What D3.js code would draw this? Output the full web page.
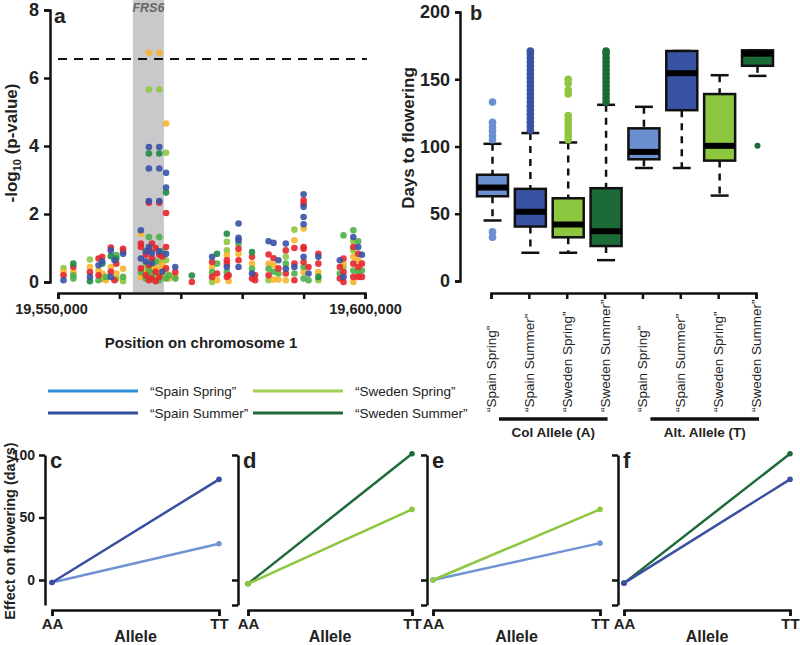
<!DOCTYPE html>
<html><head><meta charset="utf-8">
<script src="https://cdn.jsdelivr.net/npm/d3@7"></script>
<style>
body{margin:0;background:#fff}
text{font-family:"Liberation Sans",Arial,sans-serif;fill:#222}
.ax path,.ax line{stroke:#111;stroke-width:2.5}
</style></head>
<body><svg id="fig" width="800" height="645"></svg>
<script>
// ---------- Panel a data: [position (bp), -log10 p] per colour ----------
const blueSNPs = [[19550900,.05],[19555200,.15],[19556600,.49],[19557200,.6],[19558600,.93],[19558600,.15],[19559200,.64],[19560600,.83],[19563500,1.52],[19563500,.69],[19564300,.9],[19564300,.6],[19564800,3.97],[19564800,3.34],[19564800,2.38],[19564800,1.03],[19565300,.85],[19565300,.55],[19566500,3.97],[19566500,3.34],[19566500,2.38],[19566500,.9],[19567000,.3],[19567600,3.21],[19567600,2.78],[19567600,.83],[19569100,.44],[19575100,.74],[19577500,.44],[19579400,1.72],[19579400,1.3],[19579400,1.23],[19579400,.44],[19581600,.25],[19584300,1.2],[19585100,1.15],[19585900,.64],[19587100,1.13],[19587100,.39],[19588500,.44],[19590000,2.58],[19590000,2.21],[19590000,1.91],[19590000,1.7],[19590000,.74],[19590800,.25],[19592400,.74],[19595900,.64],[19596500,.15],[19598100,1.32],[19598900,1.03],[19599500,.8]];
const redSNPs = [[19550900,.2],[19552500,.44],[19555200,.29],[19556600,.69],[19556600,.2],[19557200,.74],[19558600,1.01],[19558600,.3],[19559200,.05],[19559500,.54],[19560600,.98],[19560600,.9],[19563500,1.13],[19563500,1.03],[19563500,.4],[19564300,.8],[19564300,.2],[19564800,2.33],[19564800,.93],[19564800,.5],[19564800,.05],[19565300,1.13],[19565300,.7],[19565300,.1],[19565900,1.0],[19565900,.3],[19565900,.02],[19566500,2.33],[19566500,.8],[19566500,.15],[19567000,.75],[19567600,2.03],[19567600,1.03],[19567600,.4],[19569100,.29],[19571800,0],[19575100,.59],[19575100,.15],[19575900,.25],[19577500,.64],[19577500,.54],[19577500,.15],[19577800,.2],[19579400,.98],[19579400,.64],[19581600,.74],[19581600,.1],[19582100,.2],[19582100,.05],[19584300,.81],[19584300,.2],[19585100,.7],[19585900,.4],[19587100,.93],[19587100,.25],[19588500,1.0],[19588500,.54],[19588500,.05],[19590000,2.4],[19590000,2.3],[19590000,1.03],[19590000,.98],[19590000,.59],[19590800,.44],[19592400,.83],[19592400,.54],[19595900,.44],[19595900,.1],[19596500,.69],[19596500,.29],[19596500,0],[19598100,1.03],[19598100,.54],[19598100,.15],[19598900,.83],[19598900,.44],[19598900,.15],[19599500,.54],[19599500,.15]];
const darkGreenSNPs = [[19552500,.54],[19555200,.02],[19557200,.54],[19558600,.76],[19559500,.69],[19564800,3.78],[19566500,3.78],[19567600,2.63],[19571800,.19],[19575900,.83],[19577500,1.42],[19581600,.88],[19592400,.15]];
const greenSNPs = [[19552500,.2],[19552500,.1],[19556600,.05],[19557800,.15],[19559500,.79],[19560600,.15],[19563500,.29],[19564300,.1],[19564800,1.32],[19564800,.35],[19565300,.25],[19565900,.6],[19566500,1.32],[19566500,.05],[19567000,.9],[19567600,.1],[19568100,.2],[19569100,.1],[19575100,.29],[19575900,.54],[19577500,.29],[19579400,1.13],[19581600,.39],[19584300,.39],[19585100,.3],[19585900,.25],[19587100,.54],[19588500,.25],[19590000,.44],[19590000,.1],[19590800,.05],[19595900,.25],[19596500,1.37],[19598100,1.52],[19598100,.34],[19598900,1.2],[19598900,.3],[19599500,.34]];
const lightGreenSNPs = [[19550900,.41],[19555200,.66],[19557200,.1],[19559500,.1],[19560600,.02],[19564300,.5],[19564800,5.66],[19564800,.15],[19565300,.6],[19565900,.2],[19566500,5.66],[19566500,.6],[19567000,.2],[19567600,3.8],[19567600,.64],[19575100,0],[19577500,1.18],[19577500,.93],[19584300,.05],[19587100,.74],[19588500,1.54],[19592400,.05],[19596500,.44],[19598100,1.2],[19598100,.93]];
const yellowSNPs = [[19550900,.29],[19552500,.29],[19555200,.44],[19556600,.34],[19557200,.25],[19557800,.05],[19558600,.44],[19559500,.25],[19560600,.39],[19563500,1.42],[19563500,.15],[19564300,.3],[19564800,6.74],[19564800,.3],[19565300,.45],[19565900,.4],[19566500,6.74],[19566500,.35],[19567000,.5],[19567600,4.66],[19567600,.25],[19568100,.1],[19569100,.15],[19575100,.44],[19575900,.05],[19577500,.79],[19577800,.03],[19579400,.83],[19581600,.54],[19584300,.54],[19585100,.5],[19585100,.07],[19585900,.07],[19587100,.05],[19588500,1.23],[19590000,1.57],[19590000,.29],[19592400,.29],[19596500,.54],[19598100,.74],[19598100,0],[19598900,.64]];
const geneName = "FRS6";
const geneRange = [19562200, 19567250];
const threshold = 6.56;
const yTicksA = [0,2,4,6,8];
const xTicksA = [19550000,19560000,19570000,19580000,19590000,19600000];

// ---------- Panel b data ----------
const groups = ["“Spain Spring”","“Spain Summer”","“Sweden Spring”","“Sweden Summer”"];
const alleles = ["Col Allele (A)","Alt. Allele (T)"];
// [whiskerLow, q1, median, q3, whiskerHigh]
const colBoxes = [[45,63,69.5,79,102],[21,40.5,51.5,68.5,110],[21,32.5,42,61.5,103],[15.5,26,37,69,131]];
const altBoxes = [[84,90.5,96,113.5,129.5],[84,127,154.5,171,171],[63.5,89.5,100.5,139,153],[152.5,160,169,171.5,171.5]];
const colOutliers = [
  [133,118,114.5,111.5,108,105,36.5,32.5],
  [112,115,118,121,124,127,130,133,136,139,142,145,148,151,154,157,160,163,166,169,171],
  [105,108,111,114,117,120,123,139,142,147,150],
  [133,136,139,142,145,148,151,154,157,160,163,166,169,171]
];
const altOutliers = [[],[],[],[100.5]];
const yTicksB = [0,50,100,150,200];

// ---------- Panels c-f data: effect at AA and TT ----------
const genotypes = ["AA","TT"];
const panelC = {spainSpring:[-2,29], spainSummer:[-2,80.5]};
const panelD = {swedenSummer:[-3,101], swedenSpring:[-3,56.5]};
const panelE = {spainSpring:[0,29.5], swedenSpring:[0,56.5]};
const panelF = {swedenSummer:[-2.5,101], spainSummer:[-2.5,80.5]};

const seriesColor = {spainSpring:"#7094d3", spainSummer:"#3a4fa0", swedenSpring:"#8dc63f", swedenSummer:"#1d6b3a"};
const boxColor = ["#6b8fd1","#3953a4","#8dc63f","#1b6a37"];
const legendColor = {spainSpring:"#2b8fd4", spainSummer:"#2e4e9a", swedenSpring:"#a3cf55", swedenSummer:"#1e6b3a"};
const legendLabels = {spainSpring:"“Spain Spring”", swedenSpring:"“Sweden Spring”", spainSummer:"“Spain Summer”", swedenSummer:"“Sweden Summer”"};

const svg = d3.select("#fig");

// ================= Panel a =================
const xA = d3.scaleLinear().domain([19550000,19600000]).range([58,365]);
const yA = d3.scaleLinear().domain([0,8]).range([282,10]);
const gA = svg.append("g");
gA.append("rect").attr("x",xA(geneRange[0])).attr("y",0)
  .attr("width",xA(geneRange[1])-xA(geneRange[0])).attr("height",292).attr("fill","#c9c9cb");
gA.append("text").attr("x",(xA(geneRange[0])+xA(geneRange[1]))/2).attr("y",12)
  .attr("text-anchor","middle").attr("font-size",12.5).attr("font-weight","bold").attr("font-style","italic")
  .style("fill","#666").text(geneName);

const snpSets = [[lightGreenSNPs,"#8dc63f"],[yellowSNPs,"#f7b52c"],[greenSNPs,"#4db04a"],[redSNPs,"#e6262c"],[darkGreenSNPs,"#1e8b45"],[blueSNPs,"#3852a4"]];
snpSets.forEach(([arr,col])=>{
  gA.selectAll(null).data(arr).enter().append("circle")
    .attr("cx",d=>xA(d[0])).attr("cy",d=>yA(d[1])).attr("r",3.3)
    .attr("fill",col).attr("fill-opacity",0.9);
});
gA.append("line").attr("x1",xA(19550000)).attr("x2",xA(19600300))
  .attr("y1",yA(threshold)).attr("y2",yA(threshold))
  .attr("stroke","#111").attr("stroke-width",2).attr("stroke-dasharray","9,7");

const axA_y = gA.append("g").attr("class","ax").attr("transform","translate(50,0)")
  .call(d3.axisLeft(yA).tickValues(yTicksA).tickSize(6).tickPadding(5).tickFormat(d3.format("d")));
axA_y.selectAll("text").attr("font-size",18).attr("font-weight","bold").style("font-family","Liberation Sans, Arial");
const axA_x = gA.append("g").attr("class","ax").attr("transform","translate(0,293)")
  .call(d3.axisBottom(xA).tickValues(xTicksA).tickSize(6).tickPadding(5)
    .tickFormat(d=> (d===19550000||d===19600000)? d3.format(",")(d):""));
axA_x.selectAll("text").attr("font-size",14.5).attr("font-weight","bold").style("font-family","Liberation Sans, Arial");
axA_x.selectAll("text").filter(d=>d===19550000).attr("dx",-7);
gA.append("text").attr("transform","translate(17,143) rotate(-90)").attr("text-anchor","middle")
  .attr("font-size",17).attr("font-weight","bold")
  .call(t=>{t.append("tspan").text("-log");t.append("tspan").attr("font-size",11).attr("dy",4).text("10");t.append("tspan").attr("dy",-4).text(" (p-value)");});
gA.append("text").attr("x",201).attr("y",348).attr("text-anchor","middle").attr("font-size",15).attr("font-weight","bold").text("Position on chromosome 1");
gA.append("text").attr("x",54).attr("y",23).attr("font-size",21).attr("font-weight","bold").text("a");

// ================= Panel b =================
const catKeys = d3.range(8);
const xB = d3.scalePoint().domain(catKeys).range([491,756]);
const yB = d3.scaleLinear().domain([0,200]).range([281,12]);
const gB = svg.append("g");
const allBoxes = colBoxes.concat(altBoxes);
const allOut = colOutliers.concat(altOutliers);
const bw = 31;
allBoxes.forEach((b,i)=>{
  const cx = xB(i)+1.5, col = boxColor[i%4];
  const g = gB.append("g");
  g.append("line").attr("x1",cx).attr("x2",cx).attr("y1",yB(b[4])).attr("y2",yB(b[3]))
    .attr("stroke","#111").attr("stroke-width",2.5).attr("stroke-dasharray","7,6");
  g.append("line").attr("x1",cx).attr("x2",cx).attr("y1",yB(b[1])).attr("y2",yB(b[0]))
    .attr("stroke","#111").attr("stroke-width",2.5).attr("stroke-dasharray","7,6");
  [b[0],b[4]].forEach(v=>g.append("line").attr("x1",cx-9).attr("x2",cx+9).attr("y1",yB(v)).attr("y2",yB(v))
    .attr("stroke","#111").attr("stroke-width",2.5));
  g.append("rect").attr("x",cx-bw/2).attr("y",yB(b[3])).attr("width",bw).attr("height",yB(b[1])-yB(b[3]))
    .attr("fill",col).attr("stroke","#111").attr("stroke-width",2.5);
  g.append("line").attr("x1",cx-bw/2).attr("x2",cx+bw/2).attr("y1",yB(b[2])).attr("y2",yB(b[2]))
    .attr("stroke","#000").attr("stroke-width",6);
  g.selectAll(null).data(allOut[i]).enter().append("circle")
    .attr("cx",cx).attr("cy",d=>yB(d)).attr("r",i===7?3:3.8).attr("fill",col);
});
const axB_y = gB.append("g").attr("class","ax").attr("transform","translate(460,0)")
  .call(d3.axisLeft(yB).tickValues(yTicksB).tickSize(5).tickPadding(5));
axB_y.selectAll("text").attr("font-size",18).attr("font-weight","bold").style("font-family","Liberation Sans, Arial");
const axB_x = gB.append("g").attr("class","ax").attr("transform","translate(0,293)")
  .call(d3.axisBottom(xB).tickSize(6).tickFormat(""));
catKeys.forEach(i=>{
  gB.append("text").attr("transform",`translate(${xB(i)+5},412) rotate(-90)`)
    .attr("font-size",13.5).text(groups[i%4]);
});
alleles.forEach((a,k)=>{
  const x0 = xB(k*4)+8, x1 = xB(k*4+3)+3;
  gB.append("line").attr("x1",x0).attr("x2",x1).attr("y1",419).attr("y2",419).attr("stroke","#111").attr("stroke-width",3.5);
  gB.append("text").attr("x",(x0+x1)/2).attr("y",437).attr("text-anchor","middle").attr("font-size",13.5).attr("font-weight","bold").text(a);
});
gB.append("text").attr("transform","translate(414,138) rotate(-90)").attr("text-anchor","middle")
  .attr("font-size",17).attr("font-weight","bold").text("Days to flowering");
gB.append("text").attr("x",470).attr("y",20).attr("font-size",20).attr("font-weight","bold").text("b");

// ================= Legend =================
const legRows = [["spainSpring","swedenSpring"],["spainSummer","swedenSummer"]];
legRows.forEach((row,r)=>{
  row.forEach((k,c)=>{
    const lx = 48 + c*205, ly = 391 + r*22;
    svg.append("line").attr("x1",lx).attr("x2",lx+90).attr("y1",ly).attr("y2",ly).attr("stroke",legendColor[k]).attr("stroke-width",3);
    svg.append("text").attr("x",lx+102).attr("y",ly+5).attr("font-size",13.5).text(legendLabels[k]);
  });
});

// ================= Panels c-f =================
const yE = d3.scaleLinear().domain([-20,100]).range([605,455]);
const panels = [
  {lab:"c", data:panelC, yAxisX:45, x:[52,219], ticks:[0,50,100], labels:true},
  {lab:"d", data:panelD, yAxisX:238, x:[248,412], ticks:[-20,0,100], labels:false},
  {lab:"e", data:panelE, yAxisX:427, x:[433,600], ticks:[-20,0,100], labels:false},
  {lab:"f", data:panelF, yAxisX:618, x:[624,790], ticks:[-20,0,100], labels:false}
];
panels.forEach(p=>{
  const g = svg.append("g");
  const xP = d3.scalePoint().domain(genotypes).range(p.x);
  const ay = g.append("g").attr("class","ax").attr("transform",`translate(${p.yAxisX},0)`)
    .call(d3.axisLeft(yE).tickValues(p.ticks).tickSize(6).tickSizeOuter(0).tickPadding(4)
      .tickFormat(p.labels? d3.format("d"): ""));
  ay.selectAll("text").attr("font-size",14).attr("font-weight","bold").style("font-family","Liberation Sans, Arial");
  const ax = g.append("g").attr("class","ax").attr("transform","translate(0,610)")
    .call(d3.axisBottom(xP).tickSize(6).tickPadding(2));
  ax.selectAll("text").attr("font-size",15).attr("font-weight","bold").style("font-family","Liberation Sans, Arial");
  g.append("text").attr("x",(p.x[0]+p.x[1])/2).attr("y",642).attr("text-anchor","middle")
    .attr("font-size",16).attr("font-weight","bold").text("Allele");
  g.append("text").attr("x",p.yAxisX+5).attr("y",468).attr("font-size",22).attr("font-weight","bold").text(p.lab);
  const line = d3.line().x((d,i)=>xP(genotypes[i])).y(d=>yE(d));
  Object.entries(p.data).forEach(([k,vals])=>{
    g.append("path").attr("d",line(vals)).attr("fill","none").attr("stroke",seriesColor[k]).attr("stroke-width",2.5);
    g.selectAll(null).data(vals).enter().append("circle")
      .attr("cx",(d,i)=>xP(genotypes[i])).attr("cy",d=>yE(d)).attr("r",2.8).attr("fill",seriesColor[k]);
  });
});
svg.append("text").attr("transform","translate(15,531) rotate(-90)").attr("text-anchor","middle")
  .attr("font-size",14.5).attr("font-weight","bold").text("Effect on flowering (days)");
</script></body></html>
